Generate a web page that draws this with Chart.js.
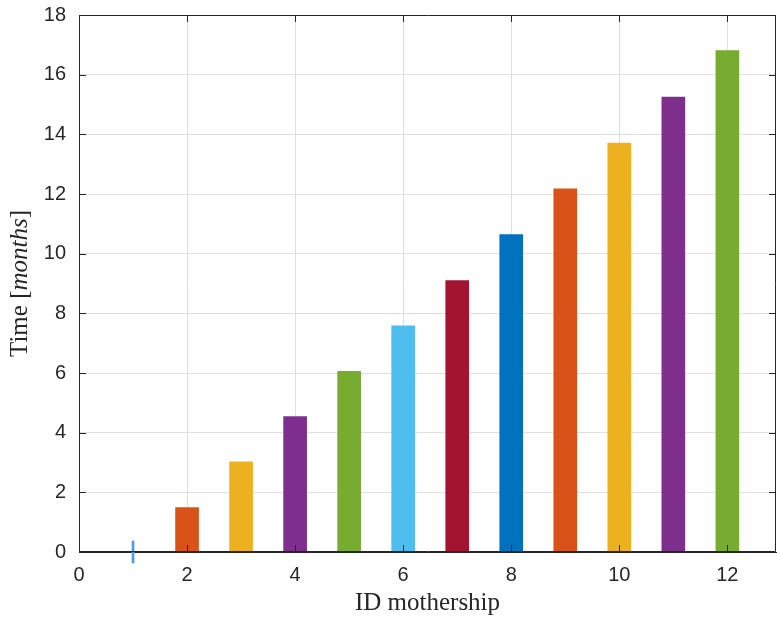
<!DOCTYPE html>
<html>
<head>
<meta charset="utf-8">
<script src="https://cdn.jsdelivr.net/npm/chart.js@4.4.0/dist/chart.umd.min.js"></script>
<style>
  html, body { margin: 0; padding: 0; background: #fff; }
  #wrap { width: 777px; height: 619px; position: relative; }
</style>
</head>
<body>
<div id="wrap"><canvas id="barChart" width="777" height="619"></canvas></div>
<script>
// data
const motherships = [2, 3, 4, 5, 6, 7, 8, 9, 10, 11, 12];
const months = [1.49, 3.02, 4.54, 6.06, 7.58, 9.10, 10.64, 12.17, 13.71, 15.25, 16.81];
const barColors = ['#D95319', '#EDB120', '#7E2F8E', '#77AC30', '#4DBEEE', '#A2142F',
                   '#0072BD', '#D95319', '#EDB120', '#7E2F8E', '#77AC30'];
// first mothership has zero time, drawn as a thin stub
const firstId = 1;
const firstStub = [-0.37, 0.37];
const xTicks = [0, 2, 4, 6, 8, 10, 12];
const yTicks = [0, 2, 4, 6, 8, 10, 12, 14, 16, 18];

const axisColor = '#262626';

const framePlugin = {
    id: 'framePlugin',
    afterDatasetsDraw(chart) {
        const {ctx, chartArea: a, scales} = chart;
        ctx.save();
        ctx.strokeStyle = axisColor;
        ctx.lineWidth = 1;
        ctx.beginPath();
        ctx.moveTo(a.left + 0.5, a.top + 0.5);
        ctx.lineTo(a.right - 0.5, a.top + 0.5);
        ctx.lineTo(a.right - 0.5, a.bottom - 0.5);
        ctx.lineTo(a.left + 0.5, a.bottom - 0.5);
        ctx.closePath();
        ctx.stroke();
        // inner tick marks
        ctx.beginPath();
        xTicks.forEach(v => {
            const x = Math.round(scales.x.getPixelForValue(v)) + 0.5;
            ctx.moveTo(x, a.bottom); ctx.lineTo(x, a.bottom - 7);
            ctx.moveTo(x, a.top); ctx.lineTo(x, a.top + 7);
        });
        yTicks.forEach(v => {
            const y = Math.round(scales.y.getPixelForValue(v)) + 0.5;
            ctx.moveTo(a.left, y); ctx.lineTo(a.left + 7, y);
            ctx.moveTo(a.right, y); ctx.lineTo(a.right - 7, y);
        });
        ctx.stroke();

        // axis titles
        ctx.fillStyle = axisColor;
        ctx.font = '25px "Liberation Serif"';
        ctx.textAlign = 'center';
        ctx.textBaseline = 'alphabetic';
        ctx.fillText('ID mothership', (a.left + a.right) / 2, 610);

        const parts = [
            ['Time [', '25px "Liberation Serif"'],
            ['months', 'italic 25px "Liberation Serif"'],
            [']', '25px "Liberation Serif"']
        ];
        let total = 0;
        parts.forEach(p => { ctx.font = p[1]; total += ctx.measureText(p[0]).width; });
        ctx.translate(27, (a.top + a.bottom) / 2);
        ctx.rotate(-Math.PI / 2);
        ctx.textAlign = 'left';
        let pos = -total / 2;
        parts.forEach(p => {
            ctx.font = p[1];
            ctx.fillText(p[0], pos, 0);
            pos += ctx.measureText(p[0]).width;
        });
        ctx.restore();
    }
};

const ctx = document.getElementById('barChart').getContext('2d');
new Chart(ctx, {
    type: 'bar',
    data: {
        datasets: [{
            data: motherships.map((id, i) => ({x: id, y: months[i]})),
            backgroundColor: barColors,
            barThickness: 23,
            grouped: false
        }, {
            data: [{x: firstId, y: firstStub}],
            backgroundColor: '#4f9fd6',
            barThickness: 2,
            grouped: false,
            clip: false
        }]
    },
    options: {
        responsive: false,
        animation: false,
        events: [],
        layout: { padding: { top: 15, right: 1, left: 0, bottom: 0 } },
        plugins: { legend: { display: false }, tooltip: { enabled: false } },
        scales: {
            x: {
                type: 'linear',
                min: 0,
                max: 12.9,
                offset: false,
                afterFit: s => { s.height = 67; s.paddingLeft = 0; s.paddingRight = 0; },
                afterBuildTicks: s => { s.ticks = xTicks.map(v => ({value: v})); },
                grid: { color: '#dfdfdf', drawTicks: false, offset: false },
                border: { color: axisColor },
                ticks: {
                    color: axisColor,
                    padding: 11,
                    font: { family: '"Liberation Sans"', size: 20 }
                }
            },
            y: {
                min: 0,
                max: 18,
                afterFit: s => { s.width = 79; s.paddingTop = 0; s.paddingBottom = 0; },
                afterBuildTicks: s => { s.ticks = yTicks.map(v => ({value: v})); },
                grid: { color: '#dfdfdf', drawTicks: false },
                border: { color: axisColor },
                ticks: {
                    color: axisColor,
                    padding: 13,
                    font: { family: '"Liberation Sans"', size: 20 }
                }
            }
        }
    },
    plugins: [framePlugin]
});
</script>
</body>
</html>
